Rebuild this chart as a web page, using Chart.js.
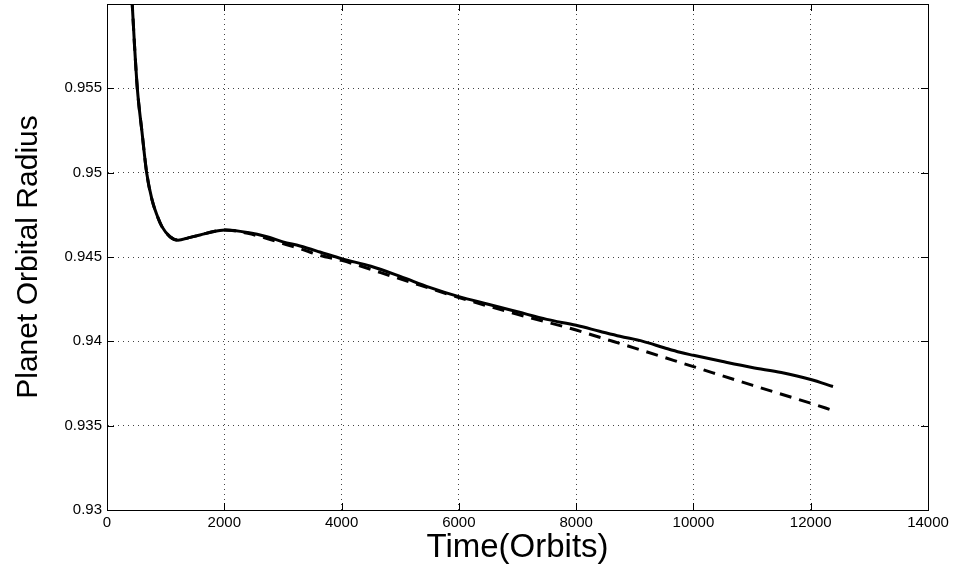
<!DOCTYPE html>
<html>
<head>
<meta charset="utf-8">
<script src="https://cdn.jsdelivr.net/npm/chart.js@4/dist/chart.umd.min.js"></script>
<style>
  body { margin: 0; background: #fff; }
  canvas { display: block; }
</style>
</head>
<body>
<canvas id="orbit" width="958" height="568"></canvas>
<script>
// solid curve (time in orbits, radius)
const solidTime = [400, 430, 470, 517, 597, 676, 767, 850, 937, 1074, 1210, 1400, 1586, 1800, 2012,
    2400, 2728, 3000, 3290, 3630, 4000, 4500, 5000, 5500, 6000, 6500, 7000, 7500, 8000, 8400,
    8747, 9140, 9500, 9770, 10000, 10500, 11000, 11500, 12000, 12380];
const solidRadius = [0.9615, 0.9600, 0.9575, 0.9550, 0.9524, 0.9500, 0.9484, 0.9475, 0.9468, 0.9462,
    0.9460, 0.94615, 0.9463, 0.9465, 0.9466, 0.94645, 0.9462, 0.9459, 0.94565, 0.9453, 0.9449,
    0.94445, 0.94385, 0.9432, 0.94265, 0.9422, 0.94175, 0.9413, 0.94095, 0.9406, 0.9403,
    0.9400, 0.93962, 0.93935, 0.93917, 0.9388, 0.93845, 0.93815, 0.93774, 0.93732];

// dashed curve
const dashedTime = [400, 430, 470, 517, 597, 676, 767, 850, 937, 1074, 1210, 1400, 1586, 1800, 2012,
    2400, 2728, 3000, 3290, 3630, 4000, 5000, 6000, 7000, 8000, 8400, 9000, 10000, 11000, 12000, 12380];
const dashedRadius = [0.9615, 0.9600, 0.9575, 0.9550, 0.9524, 0.9500, 0.9484, 0.9475, 0.9468, 0.9462,
    0.9460, 0.94615, 0.9463, 0.9465, 0.9466, 0.9464, 0.9461, 0.9458, 0.9455, 0.9451, 0.9448,
    0.9437, 0.9426, 0.9416, 0.94067, 0.94024, 0.9396, 0.9385, 0.9374, 0.93633, 0.9359];

const xTicks = [0, 2000, 4000, 6000, 8000, 10000, 12000, 14000];
const yTicks = [0.93, 0.935, 0.94, 0.945, 0.95, 0.955];

function toPoints(xs, ys) {
    let pts = [];
    for (let i = 0; i < xs.length; i++) {
        pts.push({ x: xs[i], y: ys[i] });
    }
    return pts;
}

// box around the plot with inward tick marks, matlab style
const framePlugin = {
    id: 'frame',
    afterDatasetsDraw(chart) {
        const { ctx, chartArea: a, scales } = chart;
        ctx.save();
        ctx.strokeStyle = '#000';
        ctx.lineWidth = 1;
        ctx.strokeRect(a.left + 0.5, a.top + 0.5, a.right - a.left, a.bottom - a.top);
        ctx.beginPath();
        for (let v of xTicks) {
            let px = Math.round(scales.x.getPixelForValue(v)) + 0.5;
            ctx.moveTo(px, a.bottom); ctx.lineTo(px, a.bottom - 7);
            ctx.moveTo(px, a.top); ctx.lineTo(px, a.top + 7);
        }
        for (let v of yTicks) {
            let py = Math.round(scales.y.getPixelForValue(v)) + 0.5;
            ctx.moveTo(a.left, py); ctx.lineTo(a.left + 7, py);
            ctx.moveTo(a.right, py); ctx.lineTo(a.right - 7, py);
        }
        ctx.stroke();
        ctx.restore();
    }
};

const fontFamily = '"Liberation Sans", Arial, Helvetica, sans-serif';

new Chart(document.getElementById('orbit').getContext('2d'), {
    type: 'line',
    data: {
        datasets: [{
            label: 'solid',
            data: toPoints(solidTime, solidRadius),
            borderColor: '#000',
            borderWidth: 3,
            pointRadius: 0,
            cubicInterpolationMode: 'monotone',
            clip: 0
        }, {
            label: 'dashed',
            data: toPoints(dashedTime, dashedRadius),
            borderColor: '#000',
            borderWidth: 3,
            borderDash: [12, 8],
            pointRadius: 0,
            cubicInterpolationMode: 'monotone',
            clip: 0
        }]
    },
    options: {
        responsive: false,
        animation: false,
        layout: { padding: { left: 0, right: 30, top: 4, bottom: 0 } },
        plugins: {
            legend: { display: false },
            tooltip: { enabled: false }
        },
        scales: {
            x: {
                type: 'linear',
                min: 0,
                max: 14000,
                afterFit: scale => {
                    scale.height = 58;
                    scale.paddingLeft = 0;
                    scale.paddingRight = 0;
                },
                afterBuildTicks: scale => { scale.ticks = xTicks.map(v => ({ value: v })); },
                grid: { color: '#444', drawTicks: false },
                border: { color: '#000', dash: [1, 4] },
                ticks: {
                    padding: 4,
                    color: '#000',
                    maxRotation: 0,
                    font: { family: fontFamily, size: 15 },
                    callback: v => String(v)
                },
                title: {
                    display: true,
                    text: 'Time(Orbits)',
                    color: '#000',
                    padding: { top: 0, bottom: 0 },
                    font: { family: fontFamily, size: 33 }
                }
            },
            y: {
                type: 'linear',
                min: 0.93,
                max: 0.96,
                afterFit: scale => {
                    scale.width = 107;
                    scale.paddingTop = 0;
                    scale.paddingBottom = 0;
                },
                afterBuildTicks: scale => { scale.ticks = yTicks.map(v => ({ value: v })); },
                grid: { color: '#444', drawTicks: false },
                border: { color: '#000', dash: [1, 4] },
                ticks: {
                    padding: 5,
                    color: '#000',
                    font: { family: fontFamily, size: 15 },
                    callback: v => String(+v.toFixed(4))
                },
                title: {
                    display: true,
                    text: 'Planet Orbital Radius',
                    color: '#000',
                    padding: { top: 11, bottom: 0 },
                    font: { family: fontFamily, size: 30 }
                }
            }
        }
    },
    plugins: [framePlugin]
});
</script>
</body>
</html>
